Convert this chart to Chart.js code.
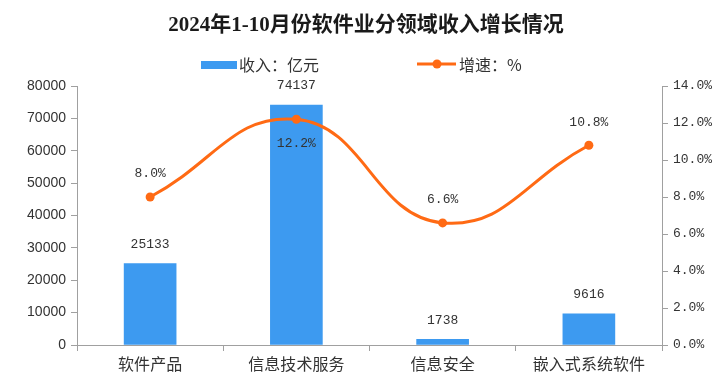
<!DOCTYPE html>
<html>
<head>
<meta charset="utf-8">
<script src="https://cdn.jsdelivr.net/npm/chart.js@4.4.1/dist/chart.umd.min.js"></script>
<style>
  body { margin: 0; background: #fff; }
  #chart { display: block; }
</style>
</head>
<body>
<canvas id="chart" width="718" height="377"></canvas>
<script>
const categories = ['软件产品', '信息技术服务', '信息安全', '嵌入式系统软件'];
const revenue = [25133, 74137, 1738, 9616];
const growth = [8.0, 12.2, 6.6, 10.8];
const revenueTicks = [0, 10000, 20000, 30000, 40000, 50000, 60000, 70000, 80000];
const growthTicks = [0, 2, 4, 6, 8, 10, 12, 14];

const title = '2024年1-10月份软件业分领域收入增长情况';
const revenueLabel = '收入：亿元';
const growthLabel = '增速：%';

const BLUE = '#3D9AF0';
const ORANGE = '#FF6A14';
const AXIS = '#A0A0A0';
const TEXT = '#333333';
const CJK = '"Noto Sans CJK SC", sans-serif';
const MONO = '"Liberation Mono", monospace';

// title + legend drawn on top of the chart
const headerPlugin = {
  id: 'header',
  afterDraw(chart) {
    const ctx = chart.ctx;
    ctx.save();
    ctx.fillStyle = '#1a1a1a';
    ctx.textAlign = 'center';
    ctx.textBaseline = 'middle';
    ctx.font = 'bold 21px "Liberation Serif", ' + CJK;
    ctx.fillText(title, 366, 26);

    ctx.textAlign = 'left';
    ctx.font = '16px ' + CJK;
    ctx.fillStyle = BLUE;
    ctx.fillRect(201, 61, 36, 8);
    ctx.fillStyle = TEXT;
    ctx.fillText(revenueLabel, 239, 65);

    ctx.strokeStyle = ORANGE;
    ctx.lineWidth = 3;
    ctx.beginPath();
    ctx.moveTo(417, 64);
    ctx.lineTo(456, 64);
    ctx.stroke();
    ctx.fillStyle = ORANGE;
    ctx.beginPath();
    ctx.arc(437, 64, 4.5, 0, Math.PI * 2);
    ctx.fill();
    ctx.fillStyle = TEXT;
    ctx.fillText(growthLabel, 459, 65);
    ctx.restore();
  }
};

// value labels over bars and points
const labelPlugin = {
  id: 'valueLabels',
  afterDatasetsDraw(chart) {
    const ctx = chart.ctx;
    const peak = Math.max(...growth);
    ctx.save();
    ctx.font = '13px ' + MONO;
    ctx.fillStyle = TEXT;
    ctx.textAlign = 'center';
    ctx.textBaseline = 'middle';
    chart.getDatasetMeta(0).data.forEach((bar, i) => {
      ctx.fillText(String(revenue[i]), bar.x, bar.y - 19);
    });
    chart.getDatasetMeta(1).data.forEach((pt, i) => {
      const dy = growth[i] === peak ? 24 : -23;
      ctx.fillText(growth[i].toFixed(1) + '%', pt.x, pt.y + dy);
    });
    ctx.restore();
  }
};

new Chart(document.getElementById('chart'), {
  data: {
    labels: categories,
    datasets: [
      {
        type: 'bar',
        label: revenueLabel,
        data: revenue,
        yAxisID: 'y',
        backgroundColor: BLUE,
        barThickness: 52,
        order: 1
      },
      {
        type: 'line',
        label: growthLabel,
        data: growth,
        yAxisID: 'y1',
        borderColor: ORANGE,
        backgroundColor: ORANGE,
        borderWidth: 3,
        pointRadius: 4.5,
        pointBackgroundColor: ORANGE,
        pointBorderWidth: 0,
        tension: 0.45,
        order: 0
      }
    ]
  },
  options: {
    responsive: false,
    animation: false,
    layout: { padding: { top: 86, left: 0, right: 0, bottom: 0 } },
    plugins: {
      legend: { display: false },
      title: { display: false },
      tooltip: { enabled: false }
    },
    scales: {
      x: {
        offset: true,
        grid: { offset: true, drawOnChartArea: false, tickLength: 6, color: AXIS },
        border: { color: AXIS },
        ticks: { color: TEXT, font: { family: CJK, size: 16 }, padding: 3 },
        afterFit(scale) { scale.height = 32; }
      },
      y: {
        position: 'left',
        min: 0,
        max: 80000,
        afterBuildTicks(scale) { scale.ticks = revenueTicks.map(v => ({ value: v })); },
        grid: { drawOnChartArea: false, tickLength: 6, color: AXIS },
        border: { color: AXIS },
        ticks: {
          color: TEXT,
          font: { family: '"Liberation Sans", Arial, sans-serif', size: 14 },
          padding: 5,
          callback: v => String(v)
        },
        afterFit(scale) { scale.width = 77; }
      },
      y1: {
        position: 'right',
        min: 0,
        max: 14,
        afterBuildTicks(scale) { scale.ticks = growthTicks.map(v => ({ value: v })); },
        grid: { drawOnChartArea: false, tickLength: 6, color: AXIS },
        border: { color: AXIS },
        ticks: {
          color: TEXT,
          font: { family: MONO, size: 13 },
          padding: 5,
          callback: v => Number(v).toFixed(1) + '%'
        },
        afterFit(scale) { scale.width = 56; }
      }
    }
  },
  plugins: [labelPlugin, headerPlugin]
});
</script>
</body>
</html>
